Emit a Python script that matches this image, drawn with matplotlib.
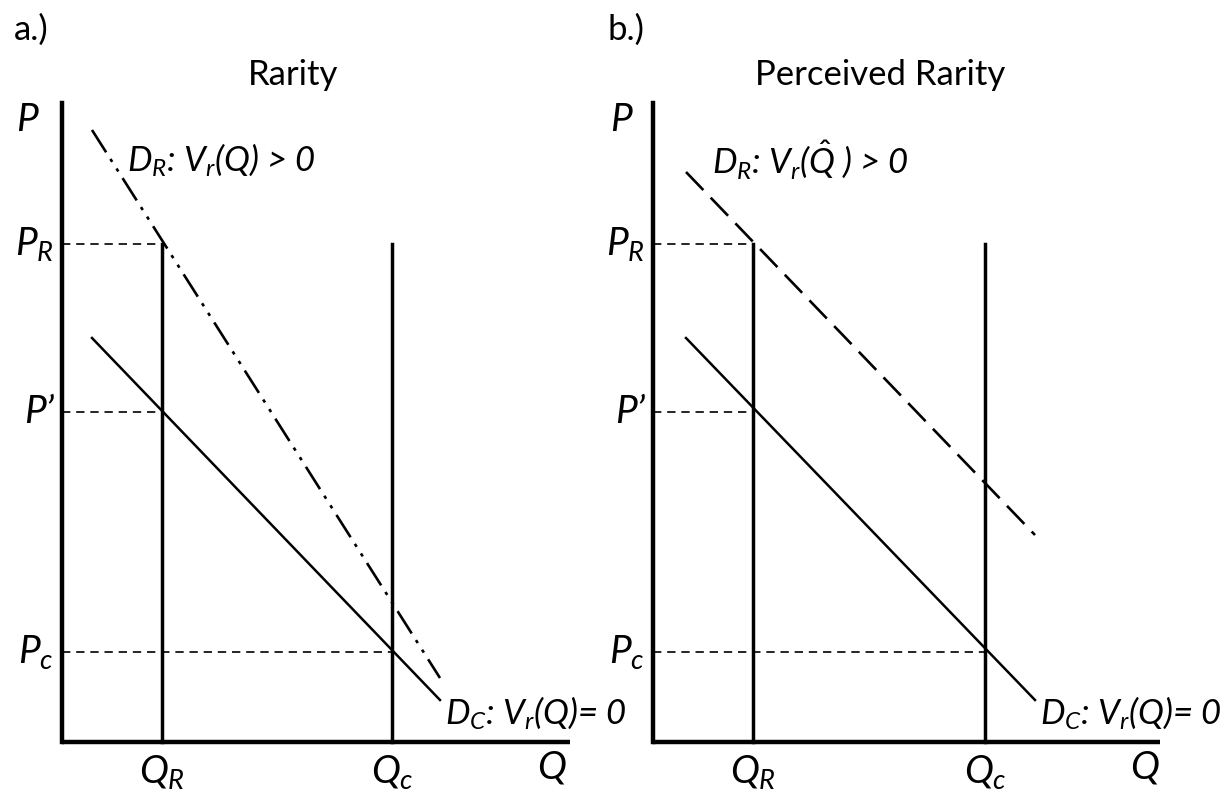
import matplotlib.pyplot as plt

plt.rcParams['font.family'] = ['Lato', 'DejaVu Sans']
plt.rcParams['mathtext.fontset'] = 'custom'
plt.rcParams['mathtext.it'] = 'Lato:italic'
plt.rcParams['mathtext.rm'] = 'Lato'

# schematic values (Q, P units measured from each panel's origin)
titles = ['Rarity', 'Perceived Rarity']
panel_tags = ['a.)', 'b.)']
q_r = [100, 100]
q_c = [330, 332]
p_r = 498
p_prime = 330
p_c = 90
dc_q = [[30, 378], [33, 382]]
dc_p = [[404, 42], [404, 42]]
dr_q = [[30, 378], [33, 382]]
dr_p = [[612, 64], [570, 207]]
dr_labels = [r'$D_R$: $V_r$(Q) > 0', r'$D_R$: $V_r$($\hat{Q}$ ) > 0']
dc_label = r'$D_C$: $V_r$(Q)= 0'
q_axis_end = [508, 507]
p_axis_end = 639

fig = plt.figure(figsize=(12.28, 7.96), dpi=100)
W, H = 1228, 796
origins = [(62, 742), (653, 742)]
fs = 25
fs_sym = 28

for i in range(2):
    left = 0 if i == 0 else 614
    ox, oy = origins[i]
    ax = fig.add_axes([left / W, 0, 614 / W, 1])
    ax.set_xlim(left - ox, left + 614 - ox)
    ax.set_ylim(-(H - oy), oy)
    ax.axis('off')

    # axes
    ax.plot([0, 0], [0, p_axis_end], color='black', lw=3.2, solid_capstyle='projecting')
    ax.plot([0, q_axis_end[i]], [0, 0], color='black', lw=3.2, solid_capstyle='butt')

    # vertical quantity lines
    ax.plot([q_r[i], q_r[i]], [0, p_r], color='black', lw=2.5)
    ax.plot([q_c[i], q_c[i]], [0, p_r], color='black', lw=2.5)

    # dashed price guides
    ax.plot([0, q_r[i]], [p_r, p_r], color='black', lw=1.2, dashes=(5, 3.5))
    ax.plot([0, q_r[i]], [p_prime, p_prime], color='black', lw=1.2, dashes=(5, 3.5))
    ax.plot([0, q_c[i]], [p_c, p_c], color='black', lw=1.2, dashes=(5, 3.5))

    # demand curves
    ax.plot(dc_q[i], dc_p[i], color='black', lw=1.8)
    if i == 0:
        ax.plot(dr_q[i], dr_p[i], color='black', lw=1.9,
                dashes=(10, 3, 1.3, 3, 1.3, 3))
    else:
        ax.plot(dr_q[i], dr_p[i], color='black', lw=1.9, dashes=(9.5, 4))

    # labels
    ax.text(-46 if i == 0 else -43, 622, 'P', fontsize=fs_sym, style='italic', va='center')
    ax.text(-8, p_r, '$P_R$', fontsize=fs_sym, ha='right', va='center')
    ax.text(-8, p_prime, 'P\u2019', fontsize=fs_sym, style='italic', ha='right', va='center')
    ax.text(-8, p_c, '$P_c$', fontsize=fs_sym, ha='right', va='center')
    ax.text(q_r[i], -30, '$Q_R$', fontsize=fs_sym, ha='center', va='center')
    ax.text(q_c[i], -30, '$Q_c$', fontsize=fs_sym, ha='center', va='center')
    ax.text(490 if i == 0 else 492, -26, 'Q', fontsize=fs_sym, style='italic', ha='center', va='center')
    ax.text(65 if i == 0 else 59, 582, dr_labels[i], fontsize=fs, style='italic', va='center')
    ax.text(383 if i == 0 else 387, 29, dc_label, fontsize=fs, style='italic', va='center', clip_on=False)
    ax.text(231 if i == 0 else 227, 667, titles[i], fontsize=fs, ha='center', va='center')
    ax.text(-48 if i == 0 else -45, 712, panel_tags[i], fontsize=fs, va='center', clip_on=False)

fig.savefig('out.png', dpi=100)
